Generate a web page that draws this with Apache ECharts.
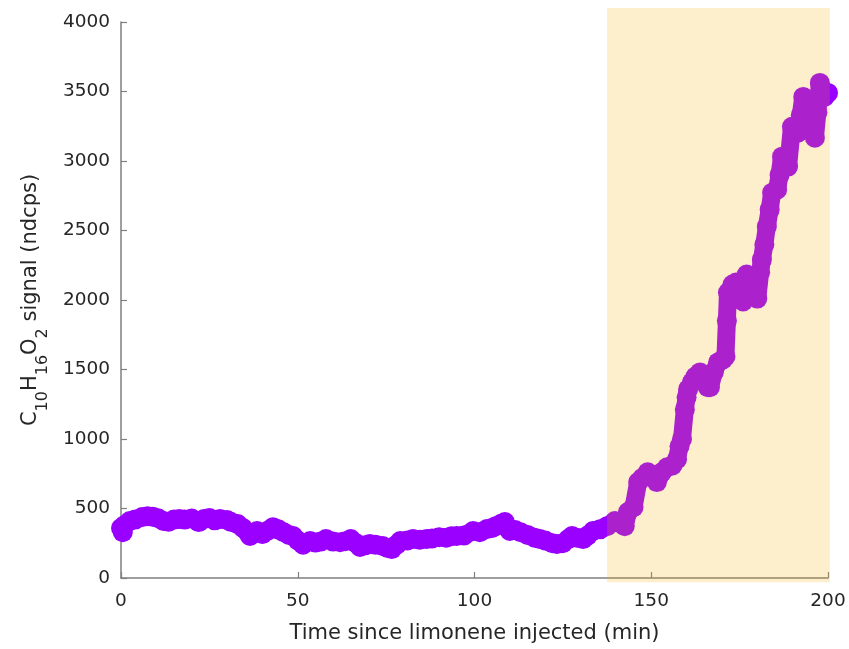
<!DOCTYPE html>
<html>
<head>
<meta charset="utf-8">
<script src="https://cdn.jsdelivr.net/npm/echarts@6/dist/echarts.min.js"></script>
<style>html,body{margin:0;padding:0;background:#fff}#c{width:849px;height:649px}</style>
</head>
<body>
<div id="c"></div>
<script>
// Time since limonene injected (min)
const times = [0,0.5,1,2.5,4,6,7.5,9,10.5,12,13.5,15,16.5,18,20,22,23.5,25,26.5,28,30,31,33,34.5,36.5,38.5,40,41.5,43,44.5,46,47.5,48.7,50,51.5,53.5,55,56.5,58,60,62,63.5,65,66.5,67.6,69,70.4,72,74,75.5,76.6,78,79,81,82.6,84.5,86.5,88,90,92,93.5,95,97,99.6,101.5,103.5,105,106,107.5,108.6,110,111.5,113,115,117,118.5,120,122,123.3,125,126.5,127.6,129,130.7,132,133.5,135.5,137.5,139.7,141,142.5,143.4,145,146.3,147.5,149,150.5,151.6,153,154.5,156,157.3,158,158.7,159.5,160,160.4,161.5,162.5,163.8,165.2,166,166.6,167.7,168.9,170.3,171,171.4,171.7,173,174,175,176,177,178,179,180,180.8,181.3,182,182.7,183.5,184.2,185.6,186.3,187,188.7,189.8,191.5,192.3,193,194,195,195.8,196.3,197,197.7,198.5,199,200];
// C10H16O2 signal (ndcps)
const signal = [360,330,380,410,420,438,445,440,430,410,405,420,425,420,428,402,425,432,415,424,417,405,388,360,302,338,316,340,366,350,330,310,302,270,240,266,255,262,280,262,258,265,280,250,223,235,244,240,230,215,208,240,266,270,280,275,280,285,294,290,300,302,305,338,330,352,360,373,390,402,338,345,330,310,290,280,270,250,244,250,280,302,290,280,305,338,350,373,410,395,373,474,510,690,720,761,740,690,760,797,810,855,948,1000,1213,1300,1357,1408,1450,1479,1420,1372,1372,1480,1551,1573,1594,1850,2054,2111,2126,2050,1990,2183,2120,2060,2010,2200,2290,2400,2528,2650,2772,2794,2900,3031,2960,3246,3203,3330,3461,3420,3368,3250,3167,3350,3562,3500,3461,3490];
// Highlighted period (min) and its vertical extent
const shadeX = [137.5, 200.5];
const shadeY = [-30, 4100];
const xTicks = [0, 50, 100, 150, 200];
const yTicks = [0, 500, 1000, 1500, 2000, 2500, 3000, 3500, 4000];

const pts = times.map((t, i) => [t, signal[i]]);
const chart = echarts.init(document.getElementById('c'), null, {renderer: 'canvas'});
const axisCol = '#7f7f7f';
const txtCol = '#262626';
const ff = '"DejaVu Sans", Arial, sans-serif';
chart.setOption({
  animation: false,
  backgroundColor: '#ffffff',
  grid: {left: 121, right: 21, top: 22, bottom: 70, containLabel: false},
  xAxis: {
    type: 'value', min: xTicks[0], max: xTicks[xTicks.length - 1], interval: 50,
    name: 'Time since limonene injected (min)', nameLocation: 'middle', nameGap: 45,
    nameTextStyle: {fontFamily: ff, fontSize: 21, color: txtCol},
    axisLine: {lineStyle: {color: axisCol, width: 1.5}},
    axisTick: {inside: true, length: 6, lineStyle: {color: axisCol, width: 1.2}},
    axisLabel: {fontFamily: ff, fontSize: 18.5, color: txtCol, margin: 14, formatter: v => String(v)},
    splitLine: {show: false}
  },
  yAxis: {
    type: 'value', min: yTicks[0], max: yTicks[yTicks.length - 1], interval: 500,
    name: '{n|C}{s|10}{n|H}{s|16}{n|O}{s|2}{n| signal (ndcps)}',
    nameLocation: 'middle', nameGap: 80, nameRotate: 90,
    nameTextStyle: {
      fontFamily: ff, fontSize: 21, color: txtCol,
      rich: {
        n: {fontFamily: ff, fontSize: 21, color: txtCol, lineHeight: 21, verticalAlign: 'top'},
        s: {fontFamily: ff, fontSize: 16, color: txtCol, lineHeight: 16, padding: [15, 0, 0, 0], verticalAlign: 'top'}
      }
    },
    axisLine: {show: true, lineStyle: {color: axisCol, width: 1.5}},
    axisTick: {show: true, inside: true, length: 6, lineStyle: {color: axisCol, width: 1.2}},
    axisLabel: {fontFamily: ff, fontSize: 18.5, color: txtCol, margin: 11, formatter: v => String(v)},
    splitLine: {show: false}
  },
  series: [
    {
      type: 'line', data: pts, z: 2,
      symbol: 'circle', symbolSize: 20, showSymbol: true, showAllSymbol: true,
      itemStyle: {color: '#9900ff'},
      lineStyle: {color: '#9900ff', width: 18, cap: 'round', join: 'round'},
      clip: false
    },
    {
      type: 'custom', z: 5, clip: false, silent: true,
      data: [[shadeX[0], shadeX[1], shadeY[0], shadeY[1]]],
      renderItem: function (params, api) {
        const p0 = api.coord([api.value(0), api.value(3)]);
        const p1 = api.coord([api.value(1), api.value(2)]);
        return {
          type: 'rect',
          shape: {x: p0[0], y: p0[1], width: p1[0] - p0[0], height: p1[1] - p0[1]},
          style: {fill: 'rgba(245,170,0,0.2)'}
        };
      },
      encode: {x: [0, 1], y: [2, 3]}
    }
  ]
});
</script>
</body>
</html>
